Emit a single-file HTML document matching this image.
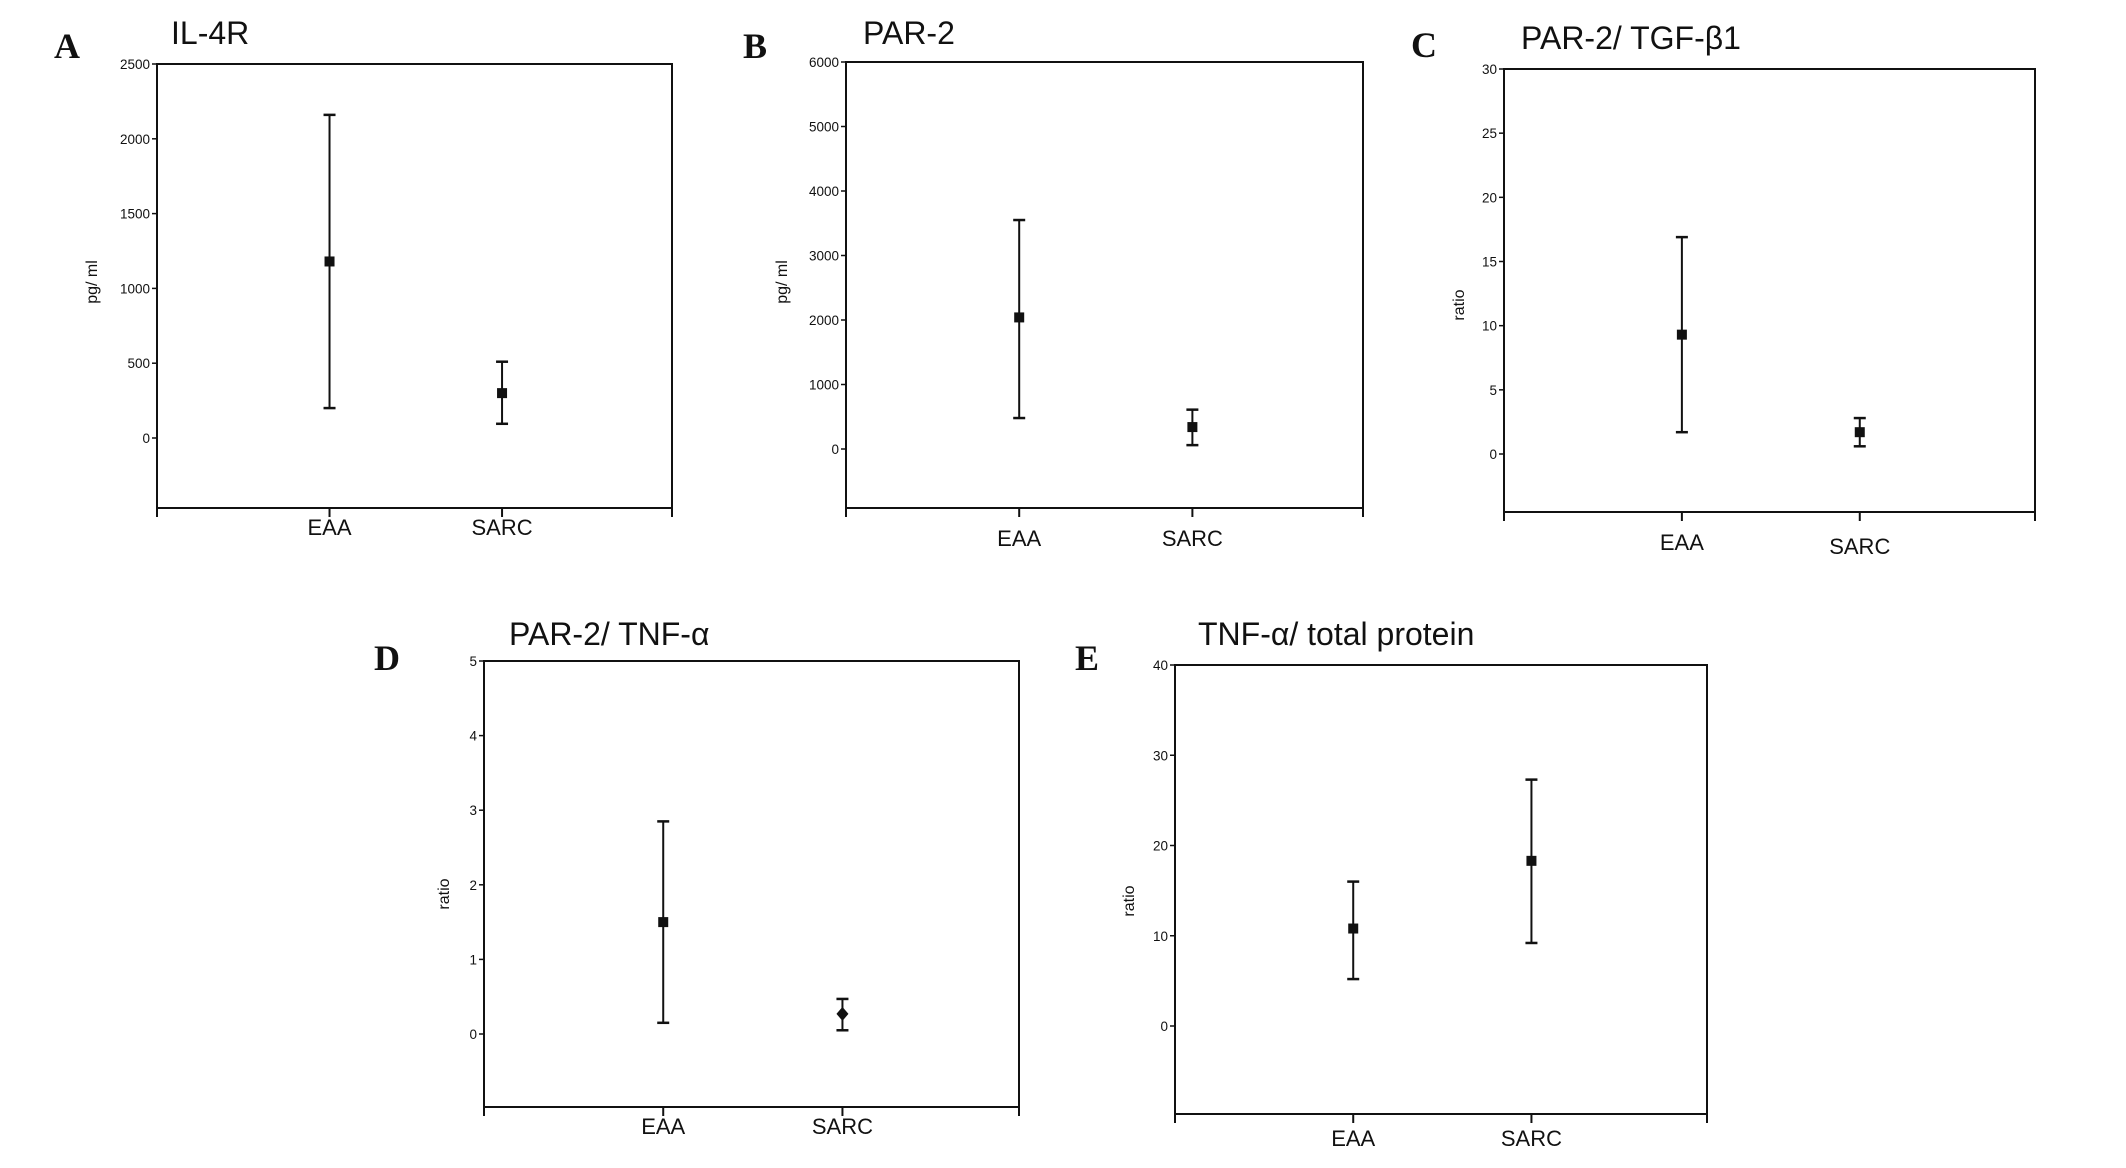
<!DOCTYPE html>
<html><head><meta charset="utf-8"><style>
html,body{margin:0;padding:0;background:#fff}
svg{display:block}
text{font-family:"Liberation Sans",sans-serif;fill:#111}
</style></head><body>
<svg id="fig" width="2126" height="1168" viewBox="0 0 2126 1168"></svg>
<script>
const categories = ["EAA","SARC"];
const panelLetters = ["A","B","C","D","E"];
const panelTitles = ["IL-4R","PAR-2","PAR-2/ TGF-β1","PAR-2/ TNF-α","TNF-α/ total protein"];
const yAxisTitles = ["pg/ ml","pg/ ml","ratio","ratio","ratio"];
const yTicksA = [0,500,1000,1500,2000,2500];
const yTicksB = [0,1000,2000,3000,4000,5000,6000];
const yTicksC = [0,5,10,15,20,25,30];
const yTicksD = [0,1,2,3,4,5];
const yTicksE = [0,10,20,30,40];
const meanA = [1180,300], lowA = [200,95], highA = [2160,510];
const meanB = [2040,340], lowB = [480,60], highB = [3550,610];
const meanC = [9.3,1.7], lowC = [1.7,0.6], highC = [16.9,2.8];
const meanD = [1.5,0.27], lowD = [0.15,0.05], highD = [2.85,0.47];
const meanE = [10.8,18.3], lowE = [5.2,9.2], highE = [16.0,27.3];

const NS="http://www.w3.org/2000/svg";
const svg=document.getElementById('fig');
function mk(tag,attrs,parent){const e=document.createElementNS(NS,tag);for(const k in attrs)e.setAttribute(k,attrs[k]);(parent||svg).appendChild(e);return e;}

const layouts=[
 {l:157,r:672,t:64,b:508,y0:438,catY:[527,527],lx:54,ly:46,tx:171,ty:33,ax:92,ay:282},
 {l:846,r:1363,t:62,b:508,y0:449,catY:[538,538],lx:743,ly:46,tx:863,ty:33,ax:782,ay:282},
 {l:1504,r:2035,t:69,b:512,y0:454,catY:[542,546],lx:1411,ly:45,tx:1521,ty:38,ax:1459,ay:305},
 {l:484,r:1019,t:661,b:1107,y0:1034,catY:[1126,1126],lx:374,ly:658,tx:509,ty:634,ax:444,ay:894},
 {l:1175,r:1707,t:665,b:1114,y0:1026,catY:[1138,1138],lx:1075,ly:658,tx:1198,ty:634,ax:1129,ay:901}
];
const catFrac=[0.335,0.67];
const ticksAll=[yTicksA,yTicksB,yTicksC,yTicksD,yTicksE];
const means=[meanA,meanB,meanC,meanD,meanE], lows=[lowA,lowB,lowC,lowD,lowE], highs=[highA,highB,highC,highD,highE];

layouts.forEach((L,i)=>{
  const g=mk('g',{});
  
  
  const ticks=ticksAll[i], maxV=ticks[ticks.length-1];
  const y=v=>L.y0-(v/maxV)*(L.y0-L.t);
  const x=j=>L.l+catFrac[j]*(L.r-L.l);
  const lt=mk('text',{x:L.lx,y:L.ly+12,'font-size':36,'font-weight':'bold',style:'font-family:"Liberation Serif",serif'},g);
  lt.textContent=panelLetters[i];
  
  
  const tt=mk('text',{x:L.tx,y:L.ty+11,'font-size':32},g);
  tt.textContent=panelTitles[i];
  
  
  const fr=mk('rect',{x:L.l,y:L.t,width:L.r-L.l,height:L.b-L.t,fill:'none',stroke:'#111','stroke-width':2},g);
  
  
  ticks.forEach(v=>{
    mk('line',{x1:L.l-5,x2:L.l,y1:y(v),y2:y(v),stroke:'#111','stroke-width':1.5},g);
    const t=mk('text',{x:L.l-7,y:y(v)+5,'font-size':14,'text-anchor':'end',textLength:String(v).length*7.5,lengthAdjust:'spacingAndGlyphs'},g);
    t.textContent=v;
    
    
  });
  [L.l,x(0),x(1),L.r].forEach(px=>mk('line',{x1:px,x2:px,y1:L.b,y2:L.b+9,stroke:'#111','stroke-width':2},g));
  categories.forEach((c,j)=>{
    const t=mk('text',{x:x(j),y:L.catY[j]+8,'font-size':22,'text-anchor':'middle'},g);
    t.textContent=c;
    
    
  });
  const at=mk('text',{x:0,y:0,'font-size':16,'text-anchor':'middle',transform:`translate(${L.ax+5},${L.ay}) rotate(-90)`},g);
  at.textContent=yAxisTitles[i];
  
  
  categories.forEach((c,j)=>{
    const px=x(j);
    const eg=mk('g',{},g);
    
    
    mk('line',{x1:px,x2:px,y1:y(highs[i][j]),y2:y(lows[i][j]),stroke:'#111','stroke-width':2},eg);
    mk('line',{x1:px-6,x2:px+6,y1:y(highs[i][j]),y2:y(highs[i][j]),stroke:'#111','stroke-width':2.5},eg);
    mk('line',{x1:px-6,x2:px+6,y1:y(lows[i][j]),y2:y(lows[i][j]),stroke:'#111','stroke-width':2.5},eg);
    let m;
    if(i===3&&j===1){const cy=y(means[i][j]);m=mk('polygon',{points:`${px},${cy-7} ${px+6},${cy} ${px},${cy+7} ${px-6},${cy}`,fill:'#111'},eg);}
    else m=mk('rect',{x:px-5,y:y(means[i][j])-5,width:10,height:10,fill:'#111'},eg);
    
    
  });
});
</script>
</body></html>
